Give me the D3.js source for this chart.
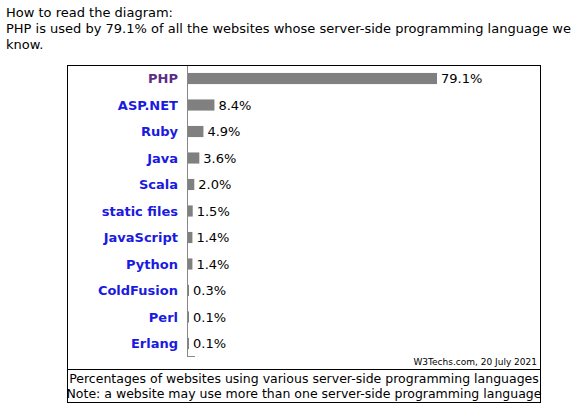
<!DOCTYPE html>
<html><head><meta charset="utf-8">
<script src="https://cdn.jsdelivr.net/npm/d3@7"></script>
<style>body{margin:0;background:#fff}</style></head>
<body><svg id="c" width="586" height="414"></svg>
<script>
const languages = ["PHP","ASP.NET","Ruby","Java","Scala","static files","JavaScript","Python","ColdFusion","Perl","Erlang"];
const shares = [79.1,8.4,4.9,3.6,2.0,1.5,1.4,1.4,0.3,0.1,0.1];
const svg = d3.select("#c").style("font-family","Verdana, 'DejaVu Sans', sans-serif");

svg.append("text").attr("x",6).attr("y",17).attr("font-size",13).text("How to read the diagram:");
svg.append("text").attr("x",6).attr("y",33).attr("font-size",13).text("PHP is used by 79.1% of all the websites whose server-side programming language we");
svg.append("text").attr("x",6).attr("y",49).attr("font-size",13).text("know.");

const x0 = 187;
const x = d3.scaleLinear().domain([0,79.1]).range([x0,436]);
const y = d3.scaleBand().domain(languages).range([65,357]).paddingInner(0.58).paddingOuter(0.3);

svg.append("rect").attr("x",67.5).attr("y",65.5).attr("width",473).attr("height",337).attr("fill","none").attr("stroke","#000");
svg.append("line").attr("x1",67.5).attr("x2",540.5).attr("y1",369.5).attr("y2",369.5).attr("stroke","#000");
svg.append("line").attr("x1",x0+0.5).attr("x2",x0+0.5).attr("y1",66).attr("y2",357).attr("stroke","#888");
svg.append("line").attr("x1",x0).attr("x2",x0+8).attr("y1",356.5).attr("y2",356.5).attr("stroke","#888");

const g = svg.selectAll("g.row").data(languages).join("g").attr("class","row");
g.append("rect").attr("x",x0+1).attr("y",d=>y(d)).attr("height",y.bandwidth())
  .attr("width",(d,i)=>Math.max(1,x(shares[i])-x0)).attr("fill","#808080");
g.append("text").attr("x",178).attr("y",d=>y(d)+y.bandwidth()/2).attr("dy","0.36em")
  .attr("text-anchor","end").attr("font-size",13).attr("font-weight","bold")
  .attr("fill",d=>d==="PHP"?"#5b2f86":"#1a1ae0").text(d=>d);
g.append("text").attr("x",(d,i)=>Math.max(x0+1,x(shares[i]))+5).attr("y",d=>y(d)+y.bandwidth()/2).attr("dy","0.36em")
  .attr("font-size",13).text((d,i)=>shares[i].toFixed(1)+"%");

svg.append("text").attr("x",537).attr("y",365).attr("text-anchor","end").attr("font-size",9).text("W3Techs.com, 20 July 2021");
svg.append("text").attr("x",304).attr("y",383).attr("text-anchor","middle").attr("font-size",12.5).text("Percentages of websites using various server-side programming languages");
svg.append("text").attr("x",304).attr("y",398).attr("text-anchor","middle").attr("font-size",12.5).text("Note: a website may use more than one server-side programming language");
</script></body></html>
